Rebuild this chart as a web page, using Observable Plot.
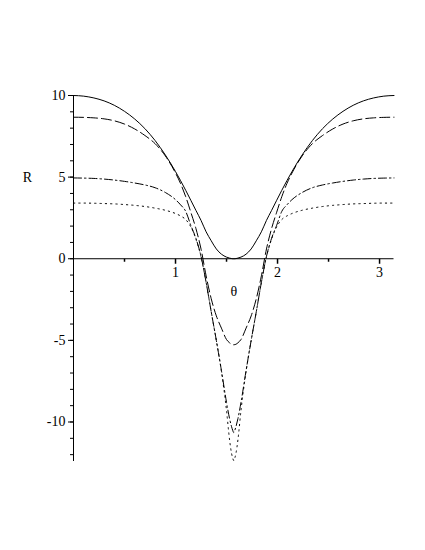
<!DOCTYPE html>
<html>
<head>
<meta charset="utf-8">
<script src="https://cdn.jsdelivr.net/npm/d3@7"></script>
<script src="https://cdn.jsdelivr.net/npm/@observablehq/plot@0.6"></script>
<style>
  html, body { margin: 0; padding: 0; background: #fff; }
  #chart svg { display: block; }
</style>
</head>
<body>
<div id="chart"></div>
<script>
const theta = [0,0.1,0.2,0.3,0.4,0.5,0.6,0.7,0.8,0.9,1.0,1.05,1.1,1.15,1.2,1.25,1.3,1.35,1.4,1.45,1.5,1.53,1.55,1.56,1.5708,
  1.5816,1.5916,1.6116,1.6416,1.6916,1.7416,1.7916,1.8416,1.8916,1.9416,1.9916,2.0416,2.0916,2.1416,2.2416,2.3416,2.4416,2.5416,2.6416,2.7416,2.8416,2.9416,3.0416,3.1416];

const solid = [10,9.96,9.85,9.67,9.40,9.03,8.56,7.97,7.24,6.36,5.34,4.78,4.19,3.58,2.96,2.35,1.65,1.1,0.6,0.28,0.1,0.04,0.01,0.0,0,
  0.0,0.01,0.04,0.1,0.28,0.6,1.1,1.65,2.35,2.96,3.58,4.19,4.78,5.34,6.36,7.24,7.97,8.56,9.03,9.40,9.67,9.85,9.96,10];

const dashed = [8.67,8.66,8.63,8.57,8.45,8.25,7.95,7.55,7.05,6.3,5.25,4.6,3.8,2.85,1.85,0.6,-1.05,-2.45,-3.5,-4.25,-4.95,-5.15,-5.24,-5.26,-5.27,
  -5.26,-5.24,-5.15,-4.95,-4.25,-3.5,-2.45,-1.05,0.6,1.85,2.85,3.8,4.6,5.25,6.3,7.05,7.55,7.95,8.25,8.45,8.57,8.63,8.66,8.67];

const dashDot = [4.95,4.94,4.92,4.88,4.82,4.74,4.64,4.52,4.35,4.06,3.62,3.3,2.9,2.05,1.25,0.15,-1.45,-3.25,-5.0,-6.85,-8.8,-9.8,-10.3,-10.5,-10.65,
  -10.5,-10.3,-9.8,-8.8,-6.85,-5.0,-3.25,-1.45,0.15,1.25,2.05,2.9,3.3,3.62,4.06,4.35,4.52,4.64,4.74,4.82,4.88,4.92,4.94,4.95];

const dotted = [3.41,3.41,3.40,3.38,3.36,3.32,3.27,3.2,3.1,2.97,2.77,2.62,2.4,1.95,1.2,0.12,-1.45,-3.25,-5.0,-6.9,-9.3,-11.1,-11.95,-12.2,-12.36,
  -12.2,-11.95,-11.1,-9.3,-6.9,-5.0,-3.25,-1.45,0.12,1.2,1.95,2.4,2.62,2.77,2.97,3.1,3.2,3.27,3.32,3.36,3.38,3.40,3.41,3.41];

const xMajor = [1, 2, 3];
const xMinor = [0.5, 1.5, 2.5];
const yMajor = [-10, -5, 0, 5, 10];
const yMinor = [-12,-11,-10,-9,-8,-7,-6,-5,-4,-3,-2,-1,0,1,2,3,4,5,6,7,8,9,10];

const series = [
  {name: "solid", values: solid, dash: null},
  {name: "dashed", values: dashed, dash: "10,4"},
  {name: "dashdot", values: dashDot, dash: "8,3,1.5,3"},
  {name: "dotted", values: dotted, dash: "1.3,4"}
];

const tickDown = len => ({draw(ctx) { ctx.moveTo(0, 0); ctx.lineTo(0, len); }});

const lineMarks = series.map(s => Plot.line(theta.map((t, i) => ({t, r: s.values[i]})), {
  x: "t", y: "r", stroke: "black", strokeWidth: 1, curve: "monotone-x",
  strokeDasharray: s.dash
}));

const chart = Plot.plot({
  width: 425,
  height: 550,
  marginLeft: 73,
  marginRight: 31.5,
  marginTop: 95,
  marginBottom: 89,
  style: {fontFamily: "'Liberation Serif', serif", fontSize: "14px", color: "black", background: "white"},
  x: {domain: [0, Math.PI], axis: null},
  y: {domain: [-12.42, 10]},
  marks: [
    Plot.ruleY([0], {stroke: "black", strokeWidth: 1}),
    Plot.ruleX([0], {stroke: "black", strokeWidth: 1}),
    Plot.axisY(yMinor, {anchor: "left", tickSize: 3, tickFormat: () => "", label: null}),
    Plot.axisY(yMajor, {anchor: "left", tickSize: 5, tickPadding: 3, label: null, fill: "black",
      tickFormat: d => d < 0 ? "-" + (-d) : String(d)}),
    Plot.dot(xMajor, {x: d => d, y: () => 0, symbol: tickDown(5), stroke: "black", fill: "none", r: 3}),
    Plot.dot(xMinor, {x: d => d, y: () => 0, symbol: tickDown(3), stroke: "black", fill: "none", r: 3}),
    Plot.text(xMajor, {x: d => d, y: () => 0, dy: 14, text: d => String(d), fill: "black"}),
    Plot.text(["R"], {x: () => 0, y: () => 4.95, dx: -46, text: d => d, fill: "black"}),
    Plot.text(["θ"], {x: () => Math.PI / 2, y: () => 0, dy: 33, text: d => d, fill: "black"}),
    ...lineMarks
  ]
});

document.getElementById("chart").appendChild(chart);
</script>
</body>
</html>
